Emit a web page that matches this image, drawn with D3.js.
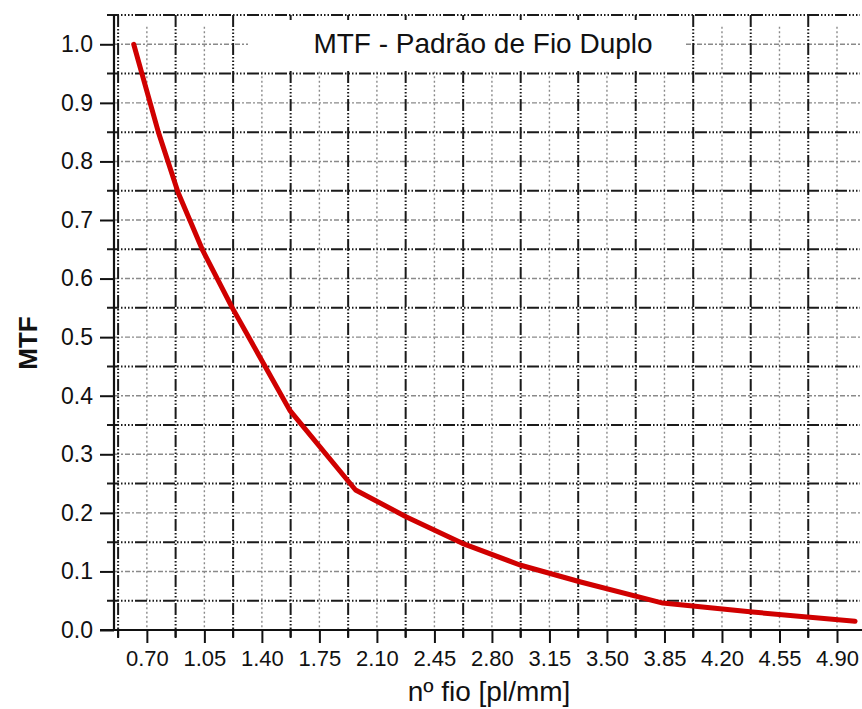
<!DOCTYPE html>
<html>
<head>
	<meta charset="utf-8">
	<title>MTF - Padrão de Fio Duplo</title>
	<script src="https://d3js.org/d3.v7.min.js"></script>
	<style>
		body { margin: 0; background: #fff; }
		text { font-family: "Liberation Sans", Arial, sans-serif; fill: #111; }
	</style>
</head>
<body>
	<script type="text/javascript">
		// data
		var fio = [0.62, 0.67, 0.77, 0.89, 1.04, 1.22, 1.42, 1.57, 1.97, 2.28, 2.62, 2.97, 3.34, 3.84, 4.37, 5.01]
		var mtf = [1.00, 0.95, 0.85, 0.747, 0.648, 0.55, 0.45, 0.375, 0.239, 0.193, 0.148, 0.111, 0.082, 0.046, 0.031, 0.015]

		// tick values
		var xTicks = [0.70, 1.05, 1.40, 1.75, 2.10, 2.45, 2.80, 3.15, 3.50, 3.85, 4.20, 4.55, 4.90]
		var xMinor = [0.525, 0.875, 1.225, 1.575, 1.925, 2.275, 2.625, 2.975, 3.325, 3.675, 4.025, 4.375, 4.725]
		var yTicks = [0.0, 0.1, 0.2, 0.3, 0.4, 0.5, 0.6, 0.7, 0.8, 0.9, 1.0]
		var yMinor = [0.05, 0.15, 0.25, 0.35, 0.45, 0.55, 0.65, 0.75, 0.85, 0.95, 1.05]

		var width = 862
		var height = 709

		var svg = d3.select("body").append("svg")
			.attr("width", width)
			.attr("height", height)

		var x = d3.scaleLinear().domain([0.5, 5.04]).range([114, 860])
		var y = d3.scaleLinear().domain([0, 1.05]).range([630, 15])

		var darkDash = "12,2,1.5,2,1.5,2,1.5,2,1.5,2"

		// light grid at labelled ticks
		svg.append("g").selectAll("line")
			.data(xTicks).enter().append("line")
			.attr("x1", d => x(d)).attr("x2", d => x(d))
			.attr("y1", y(1.03)).attr("y2", y(0))
			.attr("stroke", "#8a8a8a").attr("stroke-width", 1.4)
			.attr("stroke-dasharray", "2,2.5")
		svg.append("g").selectAll("line")
			.data(yTicks.slice(1)).enter().append("line")
			.attr("x1", x(0.5)).attr("x2", 860)
			.attr("y1", d => y(d)).attr("y2", d => y(d))
			.attr("stroke", "#8a8a8a").attr("stroke-width", 1.4)
			.attr("stroke-dasharray", "5,2,2,2")

		// dark grid at the half steps
		svg.append("g").selectAll("line")
			.data(xMinor).enter().append("line")
			.attr("x1", d => x(d)).attr("x2", d => x(d))
			.attr("y1", y(1.05)).attr("y2", y(0) + 7)
			.attr("stroke", "#1a1a1a").attr("stroke-width", 2)
			.attr("stroke-dasharray", darkDash)
		svg.append("g").selectAll("line")
			.data(yMinor).enter().append("line")
			.attr("x1", x(0.5) - 7).attr("x2", 860)
			.attr("y1", d => y(d)).attr("y2", d => y(d))
			.attr("stroke", "#1a1a1a").attr("stroke-width", 2)
			.attr("stroke-dasharray", darkDash)

		// white box behind the title
		svg.append("rect")
			.attr("x", 248).attr("y", 20)
			.attr("width", 436).attr("height", 51)
			.attr("fill", "#fff")

		svg.append("text")
			.attr("x", 483).attr("y", 53)
			.attr("text-anchor", "middle")
			.style("font-size", "28px")
			.text("MTF - Padrão de Fio Duplo")

		// axes
		var xAxis = svg.append("g")
			.attr("transform", "translate(0," + y(0) + ")")
			.call(d3.axisBottom(x).tickValues(xTicks).tickFormat(d3.format(".2f")).tickSize(13).tickSizeOuter(0))
		xAxis.select(".domain").attr("stroke", "#111").attr("stroke-width", 2.2)
			.attr("d", "M" + (x(0.5) - 14) + ",0H862")
		xAxis.selectAll(".tick line").attr("stroke", "#111").attr("stroke-width", 2)
		xAxis.selectAll(".tick text")
			.attr("y", 20)
			.style("font-size", "22px")
			.style("font-family", "Liberation Sans, Arial, sans-serif")
			.attr("fill", "#111")

		var yAxis = svg.append("g")
			.attr("transform", "translate(" + x(0.5) + ",0)")
			.call(d3.axisLeft(y).tickValues(yTicks).tickFormat(d3.format(".1f")).tickSize(14).tickSizeOuter(0))
		yAxis.select(".domain").attr("stroke", "#111").attr("stroke-width", 2.2)
			.attr("d", "M0," + y(1.05) + "V" + y(0))
		yAxis.selectAll(".tick line").attr("stroke", "#111").attr("stroke-width", 2)
		yAxis.selectAll(".tick text")
			.attr("x", -21)
			.style("font-size", "23px")
			.style("font-family", "Liberation Sans, Arial, sans-serif")
			.attr("fill", "#111")

		// small ticks below the axis at the half steps
		svg.append("g").selectAll("line")
			.data(xMinor).enter().append("line")
			.attr("x1", d => x(d)).attr("x2", d => x(d))
			.attr("y1", y(0)).attr("y2", y(0) + 8)
			.attr("stroke", "#111").attr("stroke-width", 2)

		// the curve
		var pts = fio.map((v, i) => [v, mtf[i]])
		svg.append("path")
			.datum(pts)
			.attr("fill", "none")
			.attr("stroke", "#d00000")
			.attr("stroke-width", 5)
			.attr("stroke-linejoin", "round")
			.attr("stroke-linecap", "round")
			.attr("d", d3.line().x(d => x(d[0])).y(d => y(d[1])))

		// axis titles
		svg.append("text")
			.attr("x", 489).attr("y", 701)
			.attr("text-anchor", "middle")
			.style("font-size", "28px")
			.text("nº fio [pl/mm]")

		svg.append("text")
			.attr("transform", "translate(37,343) rotate(-90)")
			.attr("text-anchor", "middle")
			.style("font-size", "26px")
			.style("font-weight", "bold")
			.text("MTF")
	</script>
</body>
</html>
